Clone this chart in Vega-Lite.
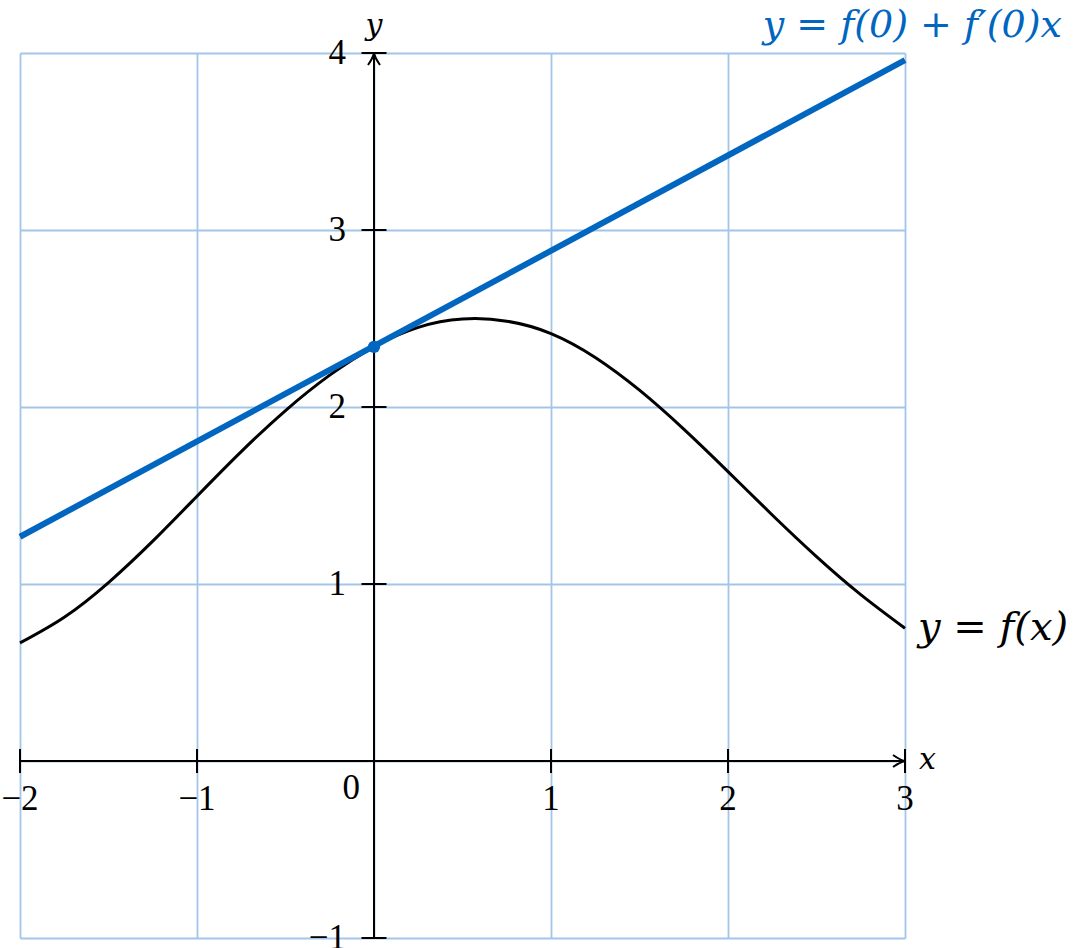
{
  "$schema": "https://vega.github.io/schema/vega-lite/v6.json",
  "width": 885,
  "height": 885,
  "autosize": {"type": "none"},
  "padding": {"left": 20, "top": 53, "right": 170, "bottom": 10},
  "background": "white",
  "config": {
    "view": {"stroke": null},
    "axis": {"grid": true, "gridColor": "#a2c6e9", "gridWidth": 1.8, "gridOpacity": 1, "domain": false, "ticks": false, "labels": false, "title": null}
  },
  "datasets": {
    "curve": [
      {"x": -2.0, "y": 0.667},
      {"x": -1.75, "y": 0.812},
      {"x": -1.5, "y": 1.008},
      {"x": -1.25, "y": 1.242},
      {"x": -1.0, "y": 1.496},
      {"x": -0.75, "y": 1.748},
      {"x": -0.5, "y": 1.98},
      {"x": -0.25, "y": 2.18},
      {"x": 0.0, "y": 2.34},
      {"x": 0.25, "y": 2.45},
      {"x": 0.5, "y": 2.497},
      {"x": 0.75, "y": 2.485},
      {"x": 1.0, "y": 2.415},
      {"x": 1.25, "y": 2.28},
      {"x": 1.5, "y": 2.095},
      {"x": 1.75, "y": 1.875},
      {"x": 2.0, "y": 1.635},
      {"x": 2.25, "y": 1.39},
      {"x": 2.5, "y": 1.155},
      {"x": 2.75, "y": 0.94},
      {"x": 3.0, "y": 0.75}
    ],
    "tangent": [
      {"x": -2, "y": 1.267},
      {"x": 3, "y": 3.96}
    ],
    "tpoint": [{"x": 0, "y": 2.34}],
    "xaxis": [{"x": -2, "x2": 3, "y": 0}],
    "yaxis": [{"x": 0, "y": -1, "y2": 4}],
    "xticks": [
      {"x": -2, "label": "−2"},
      {"x": -1, "label": "−1"},
      {"x": 1, "label": "1"},
      {"x": 2, "label": "2"},
      {"x": 3, "label": "3"}
    ],
    "yticks": [
      {"y": -1, "label": "−1"},
      {"y": 1, "label": "1"},
      {"y": 2, "label": "2"},
      {"y": 3, "label": "3"},
      {"y": 4, "label": "4"}
    ],
    "origin": [{"x": 0, "y": 0, "label": "0"}],
    "xarrow": [{"x": 3, "y": 0}],
    "yarrow": [{"x": 0, "y": 4}],
    "xname": [{"x": 3, "y": 0, "label": "x"}],
    "yname": [{"x": 0, "y": 4, "label": "y"}],
    "flabel": [{"x": 3, "y": 0.75, "label": "y = f(x)"}],
    "tlabel": [{"x": 3.887, "y": 4.09, "label": "y = f(0) + f′(0)x"}]
  },
  "layer": [
    {
      "data": {"name": "curve"},
      "mark": {"type": "line", "color": "black", "strokeWidth": 3, "interpolate": "natural"},
      "encoding": {
        "x": {"field": "x", "type": "quantitative", "scale": {"domain": [-2, 3], "nice": false, "zero": false}, "axis": {"values": [-2, -1, 0, 1, 2, 3]}},
        "y": {"field": "y", "type": "quantitative", "scale": {"domain": [-1, 4], "nice": false, "zero": false}, "axis": {"values": [-1, 0, 1, 2, 3, 4]}}
      }
    },
    {
      "data": {"name": "xaxis"},
      "mark": {"type": "rule", "color": "black", "strokeWidth": 2},
      "encoding": {
        "x": {"field": "x", "type": "quantitative"},
        "x2": {"field": "x2"},
        "y": {"field": "y", "type": "quantitative"}
      }
    },
    {
      "data": {"name": "yaxis"},
      "mark": {"type": "rule", "color": "black", "strokeWidth": 2},
      "encoding": {
        "x": {"field": "x", "type": "quantitative"},
        "y": {"field": "y", "type": "quantitative"},
        "y2": {"field": "y2"}
      }
    },
    {
      "data": {"name": "xticks"},
      "mark": {"type": "tick", "orient": "vertical", "color": "black", "size": 24, "thickness": 2, "opacity": 1},
      "encoding": {
        "x": {"field": "x", "type": "quantitative"},
        "y": {"datum": 0, "type": "quantitative"}
      }
    },
    {
      "data": {"name": "yticks"},
      "mark": {"type": "tick", "orient": "horizontal", "color": "black", "size": 25, "thickness": 2, "opacity": 1},
      "encoding": {
        "x": {"datum": 0, "type": "quantitative"},
        "y": {"field": "y", "type": "quantitative"}
      }
    },
    {
      "data": {"name": "xarrow"},
      "mark": {"type": "point", "shape": "M -1 -0.5 Q -0.4 -0.08 0 0 Q -0.4 0.08 -1 0.5", "size": 576, "filled": false, "stroke": "black", "strokeWidth": 2, "opacity": 1},
      "encoding": {
        "x": {"field": "x", "type": "quantitative"},
        "y": {"field": "y", "type": "quantitative"}
      }
    },
    {
      "data": {"name": "yarrow"},
      "mark": {"type": "point", "shape": "M -0.5 1 Q -0.08 0.4 0 0 Q 0.08 0.4 0.5 1", "size": 576, "filled": false, "stroke": "black", "strokeWidth": 2, "opacity": 1},
      "encoding": {
        "x": {"field": "x", "type": "quantitative"},
        "y": {"field": "y", "type": "quantitative"}
      }
    },
    {
      "data": {"name": "tangent"},
      "mark": {"type": "line", "color": "#0066bf", "strokeWidth": 6},
      "encoding": {
        "x": {"field": "x", "type": "quantitative"},
        "y": {"field": "y", "type": "quantitative"}
      }
    },
    {
      "data": {"name": "tpoint"},
      "mark": {"type": "circle", "color": "#0066bf", "size": 150, "opacity": 1},
      "encoding": {
        "x": {"field": "x", "type": "quantitative"},
        "y": {"field": "y", "type": "quantitative"}
      }
    },
    {
      "data": {"name": "xticks"},
      "mark": {"type": "text", "font": "Liberation Serif", "fontSize": 35, "align": "center", "baseline": "alphabetic", "dy": 49, "color": "black"},
      "encoding": {
        "x": {"field": "x", "type": "quantitative"},
        "y": {"datum": 0, "type": "quantitative"},
        "text": {"field": "label"}
      }
    },
    {
      "data": {"name": "yticks"},
      "mark": {"type": "text", "font": "Liberation Serif", "fontSize": 35, "align": "right", "baseline": "middle", "dx": -28, "color": "black"},
      "encoding": {
        "x": {"datum": 0, "type": "quantitative"},
        "y": {"field": "y", "type": "quantitative"},
        "text": {"field": "label"}
      }
    },
    {
      "data": {"name": "origin"},
      "mark": {"type": "text", "font": "Liberation Serif", "fontSize": 35, "align": "right", "baseline": "alphabetic", "dx": -14, "dy": 38, "color": "black"},
      "encoding": {
        "x": {"field": "x", "type": "quantitative"},
        "y": {"field": "y", "type": "quantitative"},
        "text": {"field": "label"}
      }
    },
    {
      "data": {"name": "xname"},
      "mark": {"type": "text", "font": "DejaVu Serif", "fontStyle": "italic", "fontSize": 30, "align": "left", "baseline": "middle", "dx": 14, "dy": -1, "color": "black"},
      "encoding": {
        "x": {"field": "x", "type": "quantitative"},
        "y": {"field": "y", "type": "quantitative"},
        "text": {"field": "label"}
      }
    },
    {
      "data": {"name": "yname"},
      "mark": {"type": "text", "font": "DejaVu Serif", "fontStyle": "italic", "fontSize": 30, "align": "center", "baseline": "alphabetic", "dy": -18, "color": "black"},
      "encoding": {
        "x": {"field": "x", "type": "quantitative"},
        "y": {"field": "y", "type": "quantitative"},
        "text": {"field": "label"}
      }
    },
    {
      "data": {"name": "flabel"},
      "mark": {"type": "text", "font": "DejaVu Serif", "fontStyle": "italic", "fontSize": 40, "align": "left", "baseline": "middle", "dx": 13, "color": "black"},
      "encoding": {
        "x": {"field": "x", "type": "quantitative"},
        "y": {"field": "y", "type": "quantitative"},
        "text": {"field": "label"}
      }
    },
    {
      "data": {"name": "tlabel"},
      "mark": {"type": "text", "font": "DejaVu Serif", "fontStyle": "italic", "fontSize": 38, "align": "right", "baseline": "alphabetic", "color": "#0066bf"},
      "encoding": {
        "x": {"field": "x", "type": "quantitative"},
        "y": {"field": "y", "type": "quantitative"},
        "text": {"field": "label"}
      }
    }
  ]
}
